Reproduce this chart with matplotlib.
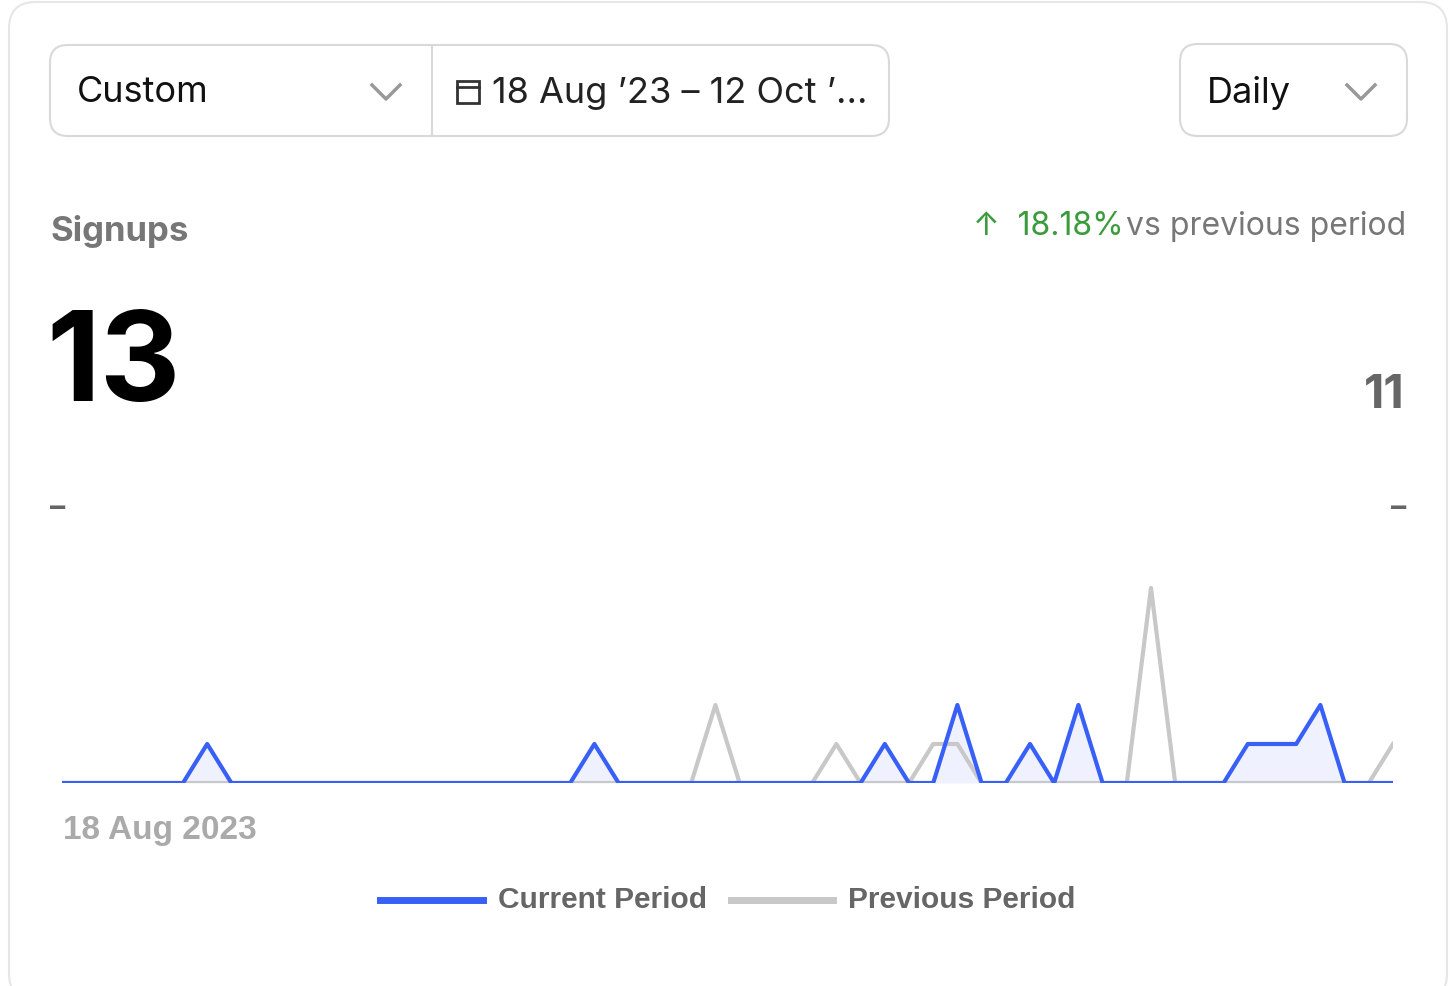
import matplotlib
matplotlib.use('Agg')
import matplotlib.pyplot as plt
from matplotlib.patches import FancyBboxPatch
from matplotlib.lines import Line2D
import numpy as np

# 56 daily values, 18 Aug 2023 - 12 Oct 2023
current = [0]*56
for i, v in {6: 1, 22: 1, 34: 1, 37: 2, 40: 1, 42: 2, 49: 1, 50: 1, 51: 1, 52: 2}.items():
    current[i] = v
previous = [0]*56
for i, v in {27: 2, 32: 1, 36: 1, 37: 1, 45: 5, 55: 1}.items():
    previous[i] = v

total_current = sum(current)
total_previous = sum(previous)
change = (total_current - total_previous) / total_previous * 100

W, H = 1455, 986
fig = plt.figure(figsize=(W/100, H/100), dpi=100)

def fx(x): return x / W
def fy(y): return 1 - y / H

def box(x0, y0, x1, y1, r=12, ec='#d9d9d9'):
    fig.patches.append(FancyBboxPatch((fx(x0), fy(y1)), fx(x1-x0), (y1-y0)/H,
                       boxstyle=f"round,pad=0,rounding_size={r/H}", transform=fig.transFigure,
                       fc='white', ec=ec, lw=1.5, mutation_aspect=W/H, zorder=0))

box(9, 2, 1447, 1000, r=18, ec='#e6e6e6')
box(50, 45, 889, 136)
fig.add_artist(Line2D([fx(432)]*2, [fy(45), fy(136)], color='#d9d9d9', lw=1.5))
box(1180, 44, 1407, 136)

def chevron(cx, cy):
    fig.add_artist(Line2D([fx(cx-14), fx(cx), fx(cx+14)], [fy(cy-7), fy(cy+7), fy(cy-7)],
                          color='#999999', lw=2.5))
chevron(386, 92)
chevron(1361, 92)

fnt = 'Inter'
fig.text(fx(77), fy(93), 'Custom', fontsize=26, family=fnt, va='center', color='#111')
# calendar icon
fig.patches.append(FancyBboxPatch((fx(457), fy(103)), fx(22), 22/H, boxstyle='square,pad=0',
                   transform=fig.transFigure, fc='none', ec='#333', lw=2))
fig.add_artist(Line2D([fx(457), fx(479)], [fy(87)]*2, color='#333', lw=2))
fig.text(fx(492), fy(93), '18 Aug \u201923 \u2013 12 Oct \u2019...', fontsize=26, family=fnt,
         va='center', color='#222')
fig.text(fx(1207), fy(93), 'Daily', fontsize=26, family=fnt, va='center', color='#111')

fig.text(fx(50), fy(231), 'Signups', fontsize=25, family=fnt, weight='bold', va='center', color='#777')
fig.text(fx(1406), fy(226), 'vs previous period', fontsize=23, family=fnt, va='center', ha='right', color='#777')
fig.text(fx(1124), fy(226), f'\u2191  {change:.2f}%', fontsize=23, family=fnt, va='center', ha='right',
         color='#3a9b3a')
fig.text(fx(46), fy(368), str(total_current), fontsize=90, family=fnt, weight='bold', va='center', color='#000')
fig.text(fx(1405), fy(396), str(total_previous), fontsize=34, family=fnt, weight='bold', va='center',
         ha='right', color='#666')
fig.text(fx(50), fy(508), '\u2013', fontsize=22, family=fnt, va='center', color='#666', weight='bold')
fig.text(fx(1406), fy(508), '\u2013', fontsize=22, family=fnt, va='center', ha='right', color='#666', weight='bold')

ax = fig.add_axes([fx(62), fy(783), fx(1393-62), (783-508)/H])
ax.set_zorder(5)
ax.patch.set_alpha(0)
x = np.arange(len(current))
ax.plot(x, previous, color='#c8c8c8', lw=3, zorder=2)
ax.fill_between(x, current, color='#3b5bfd', alpha=0.08, lw=0, zorder=1)
ax.plot(x, current, color='#3860f6', lw=3, zorder=3)
ax.set_xlim(0, len(current)-1)
ax.set_ylim(0, 7.05)
ax.axis('off')

fig.text(fx(63), fy(831), '18 Aug 2023', fontsize=24, family='Liberation Sans', weight='bold',
         va='center', color='#aaa')

fig.add_artist(Line2D([fx(380), fx(483)], [fy(900)]*2, color='#3860f6', lw=5))
fig.text(fx(498), fy(900), 'Current Period', fontsize=21.5, family='Liberation Sans', weight='bold',
         va='center', color='#666')
fig.add_artist(Line2D([fx(731), fx(833)], [fy(900)]*2, color='#c8c8c8', lw=5))
fig.text(fx(848), fy(900), 'Previous Period', fontsize=21.5, family='Liberation Sans', weight='bold',
         va='center', color='#666')

fig.savefig('out.png', dpi=100)
